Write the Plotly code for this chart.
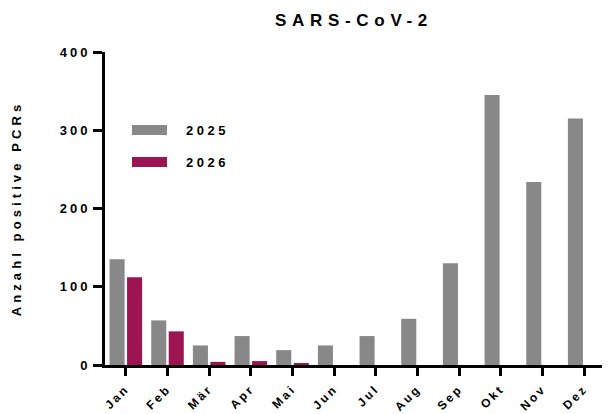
import plotly.graph_objects as go

months = ["Jan", "Feb", "Mär", "Apr", "Mai", "Jun", "Jul", "Aug", "Sep", "Okt", "Nov", "Dez"]
values_2025 = [135, 57, 25, 37, 19, 25, 37, 59, 130, 345, 234, 315]
values_2026 = [112, 43, 4, 5, 2, None, None, None, None, None, None, None]
y_ticks = [0, 100, 200, 300, 400]
y_ticklabels = ["0", "100", "200", "300", "400"]
title_text = "SARS-CoV-2"
y_title = "Anzahl positive PCRs"

GRAY = "#888888"
MAGENTA = "#9C1552"
FONT = "Arial, Liberation Sans, sans-serif"

# the page body has an 8px default margin, so the figure is 8px smaller
W, H = 602, 406
ML, MR, MT, MB = 97, 5, 44, 49
PW, PH = W - ML - MR, H - MT - MB


def sp(t, s):
    return f"<span style='letter-spacing:{s}px'>{t}</span>"


fig = go.Figure()
fig.add_trace(go.Bar(x=months, y=values_2025, name="2025", marker_color=GRAY,
                     marker_line_width=0, showlegend=False))
fig.add_trace(go.Bar(x=months, y=values_2026, name="2026", marker_color=MAGENTA,
                     marker_line_width=0, showlegend=False))
# legend-only entries (wide swatches; dash leaves a gap before the text)
fig.add_trace(go.Scatter(x=[None], y=[None], mode="lines", name=sp("2025", 3.5),
                         line=dict(color=GRAY, width=10, dash="35px,60px"),
                         legend="legend"))
fig.add_trace(go.Scatter(x=[None], y=[None], mode="lines", name=sp("2026", 3.5),
                         line=dict(color=MAGENTA, width=10, dash="35px,60px"),
                         legend="legend2"))

legend_common = dict(xanchor="left", yanchor="middle", bgcolor="rgba(0,0,0,0)",
                     font=dict(family=FONT, size=13, color="black", weight="bold"),
                     itemwidth=49)

fig.update_layout(
    width=W, height=H,
    margin=dict(l=ML, r=MR, t=MT, b=MB, autoexpand=False),
    paper_bgcolor="white", plot_bgcolor="white",
    barmode="group", bargap=0.16, bargroupgap=0.14,
    title=dict(text=sp(title_text, 5.7), x=(354 - 105) / PW, xanchor="center",
               xref="paper", yref="container",
               y=1 - 12 / H, yanchor="middle",
               font=dict(family=FONT, size=17, color="black", weight="bold")),
    legend=dict(x=(127 - 105) / PW, y=(365 - 130) / PH, **legend_common),
    legend2=dict(x=(127 - 105) / PW, y=(365 - 162) / PH, **legend_common),
    xaxis=dict(
        tickmode="array", tickvals=months, ticktext=[sp(m, 2.6) for m in months],
        tickangle=-45, showline=True, linewidth=3, linecolor="black",
        ticks="outside", ticklen=8, tickwidth=3, tickcolor="black",
        ticklabelstandoff=1,
        showgrid=False, zeroline=False, automargin=False,
        tickfont=dict(family=FONT, size=12, color="black", weight="bold"),
    ),
    yaxis=dict(
        range=[0, 400], tickmode="array", tickvals=y_ticks,
        ticktext=[sp(t, 3) for t in y_ticklabels],
        showline=True, linewidth=3, linecolor="black",
        ticks="outside", ticklen=9, tickwidth=3, tickcolor="black",
        showgrid=False, zeroline=False, automargin=False,
        tickfont=dict(family=FONT, size=13, color="black", weight="bold"),
        title=dict(text=sp(y_title, 4.1), standoff=36,
                   font=dict(family=FONT, size=13, color="black", weight="bold")),
    ),
)

fig.write_html("out.html")
